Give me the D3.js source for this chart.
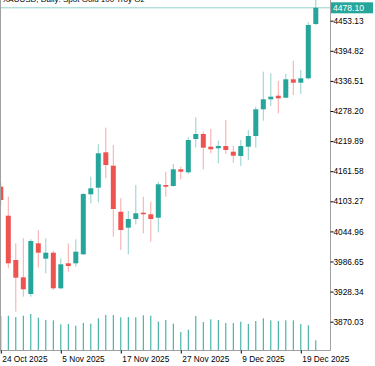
<!DOCTYPE html>
<html><head><meta charset="utf-8">
<script src="https://cdn.jsdelivr.net/npm/d3@7"></script>
<style>
body{margin:0;background:#fff;}
svg{display:block;}
text{font-family:"Liberation Sans",Arial,sans-serif;}
</style>
</head><body>
<svg id="c" width="375" height="366"></svg>
<script>
const dates = ["2025-10-24","2025-10-27","2025-10-28","2025-10-29","2025-10-30","2025-10-31",
"2025-11-03","2025-11-04","2025-11-05","2025-11-06","2025-11-07",
"2025-11-10","2025-11-11","2025-11-12","2025-11-13","2025-11-14",
"2025-11-17","2025-11-18","2025-11-19","2025-11-20","2025-11-21",
"2025-11-24","2025-11-25","2025-11-26","2025-11-27","2025-11-28",
"2025-12-01","2025-12-02","2025-12-03","2025-12-04","2025-12-05",
"2025-12-08","2025-12-09","2025-12-10","2025-12-11","2025-12-12",
"2025-12-15","2025-12-16","2025-12-17","2025-12-18","2025-12-19",
"2025-12-22","2025-12-23"];
const opens = [4131.55,4075.38,3989.56,3956.04,3923.69,4021.91,3992.08,4003.70,3934.74,3983.17,3983.17,4000.60,4116.83,4129.62,4198.19,4172.24,4083.12,4052.13,4068.98,4081.19,4078.09,4071.50,4134.85,4132.91,4165.26,4159.45,4223.96,4233.65,4209.04,4205.94,4210.40,4199.36,4191.03,4209.04,4229.77,4281.49,4300.87,4307.84,4303.97,4339.61,4333.02,4341.55,4446.74];
const highs = [4138.72,4112.18,4021.91,4031.60,4029.66,4047.67,4031.60,4007.57,3992.85,4021.91,4029.66,4119.35,4150.93,4213.69,4245.85,4212.34,4109.08,4084.48,4134.85,4112.18,4102.50,4141.24,4160.61,4175.53,4170.30,4227.25,4266.00,4238.10,4243.33,4220.67,4260.77,4210.40,4222.02,4241.39,4286.53,4354.33,4351.23,4336.32,4349.88,4375.64,4357.63,4450.03,4497.00];
const lows = [4096.10,3973.48,3889.40,3918.46,3918.46,3974.64,3963.79,3931.44,3932.80,3966.89,3976.58,3999.24,4099.40,4101.33,4147.83,4034.69,4008.93,4000.60,4058.72,4041.28,4025.01,4043.22,4112.18,4131.55,4145.89,4156.16,4207.88,4165.26,4196.26,4176.88,4194.90,4178.05,4171.65,4183.28,4207.11,4259.41,4287.89,4273.75,4302.80,4309.20,4311.13,4339.61,4444.80];
const closes = [4105.79,3983.17,3955.27,3932.80,4026.36,4003.70,4003.70,3934.74,3981.23,3977.93,4005.64,4117.41,4128.46,4196.26,4173.59,4088.36,4047.67,4068.98,4080.03,4078.09,4068.98,4136.20,4131.55,4165.26,4160.61,4222.02,4233.65,4207.11,4204.01,4210.40,4202.65,4191.61,4210.40,4229.77,4281.49,4300.87,4305.90,4302.80,4339.61,4333.02,4341.55,4444.80,4478.10];
const volumes = [68000,68600,66000,68600,72000,64600,60000,59400,51400,52000,48600,54000,52600,63400,70000,70000,65400,66000,65400,69400,68600,56600,60000,52600,36000,40600,68000,56000,61400,60000,54000,54000,56600,52000,58000,63400,59400,58000,59400,59400,52000,49400,19400];
const yTicks = [3870.03,3928.34,3986.65,4044.96,4103.27,4161.58,4219.89,4278.20,4336.51,4394.82,4453.13];
const xLabelDates = ["2025-10-24","2025-11-05","2025-11-17","2025-11-27","2025-12-09","2025-12-19"];
const lastPrice = 4478.10;
const title = "XAUUSD, Daily:  Spot Gold 100 Troy Oz";

const UP = "#26a69a", DOWN = "#ef5350";
const W = 375, H = 366, plotR = 330, plotB = 350;
const svg = d3.select("#c");

const data = dates.map((d,i)=>({date:d,o:opens[i],h:highs[i],l:lows[i],c:closes[i],v:volumes[i]}));

const x = d3.scalePoint().domain(dates).range([0.8, 315.8]);
const y = d3.scaleLinear().domain([3870.03, 4453.13]).range([321.7, 20.7]);
const yv = d3.scaleLinear().domain([0, 80000]).range([plotB, plotB - 40]);

svg.append("defs").append("clipPath").attr("id","clip")
  .append("rect").attr("x",0).attr("y",0).attr("width",plotR).attr("height",plotB);

const plot = svg.append("g").attr("clip-path","url(#clip)");

// volumes
plot.selectAll("line.vol").data(data).join("line").attr("class","vol")
  .attr("x1",d=>x(d.date)).attr("x2",d=>x(d.date))
  .attr("y1",yv(0)).attr("y2",d=>yv(d.v))
  .attr("stroke",UP).attr("stroke-width",1);

// last price line
plot.append("line").attr("x1",0).attr("x2",plotR)
  .attr("y1",y(lastPrice)).attr("y2",y(lastPrice))
  .attr("stroke",UP).attr("stroke-opacity",0.5).attr("stroke-width",1);

// wicks
plot.selectAll("line.wick").data(data).join("line").attr("class","wick")
  .attr("x1",d=>x(d.date)).attr("x2",d=>x(d.date))
  .attr("y1",d=>y(d.h)).attr("y2",d=>y(d.l))
  .attr("stroke",d=>d.c>=d.o?UP:DOWN).attr("stroke-opacity",0.5).attr("stroke-width",1);

// bodies
plot.selectAll("rect.body").data(data).join("rect").attr("class","body")
  .attr("x",d=>x(d.date)-2.5).attr("width",5)
  .attr("y",d=>y(Math.max(d.o,d.c)))
  .attr("height",d=>Math.max(1.5, Math.abs(y(d.o)-y(d.c))))
  .attr("fill",d=>d.c>=d.o?UP:DOWN);

// frame lines
svg.append("line").attr("x1",0.5).attr("x2",0.5).attr("y1",0).attr("y2",plotB)
  .attr("stroke","#a0a0a0").attr("stroke-width",1);
svg.append("line").attr("x1",plotR+0.5).attr("x2",plotR+0.5).attr("y1",0).attr("y2",plotB+0.5)
  .attr("stroke","#a0a0a0").attr("stroke-width",1);
svg.append("line").attr("x1",0).attr("x2",plotR+0.5).attr("y1",plotB+0.5).attr("y2",plotB+0.5)
  .attr("stroke","#a0a0a0").attr("stroke-width",1);

// y axis
const yAxis = svg.append("g").attr("transform",`translate(${plotR+0.5},0)`)
  .call(d3.axisRight(y).tickValues(yTicks).tickSize(3).tickPadding(0).tickFormat(d3.format(".2f")));
yAxis.select(".domain").remove();
yAxis.selectAll(".tick line").attr("stroke","#000");
yAxis.selectAll(".tick text").attr("font-size","8.3px").attr("fill","#000")
  .attr("font-family","'Liberation Sans',Arial,sans-serif");

// x axis
const fmt = d3.timeFormat("%-d %b %Y"), parse = d3.timeParse("%Y-%m-%d");
const xAxis = svg.append("g").attr("transform",`translate(0,${plotB+0.5})`)
  .call(d3.axisBottom(x).tickValues(xLabelDates).tickSize(3).tickPadding(0).tickFormat(d=>fmt(parse(d))));
xAxis.select(".domain").remove();
xAxis.selectAll(".tick line").attr("stroke","#000");
xAxis.selectAll(".tick text").attr("font-size","8.3px").attr("fill","#000")
  .attr("text-anchor","start").attr("x",1).attr("y",11).attr("dy",0)
  .attr("font-family","'Liberation Sans',Arial,sans-serif");

// last price box
const ly = y(lastPrice);
svg.append("rect").attr("x",plotR+1).attr("y",ly-5.5).attr("width",42).attr("height",11).attr("fill",UP);
svg.append("text").attr("x",plotR+3).attr("y",ly+3).attr("fill","#fff")
  .attr("font-size","8.6px").text(d3.format(".2f")(lastPrice));

// title (mostly outside the view, as in the reference)
svg.append("text").attr("x",3).attr("y",1.6).attr("font-size","8px").attr("fill","#000").text(title);
</script>
</body></html>
